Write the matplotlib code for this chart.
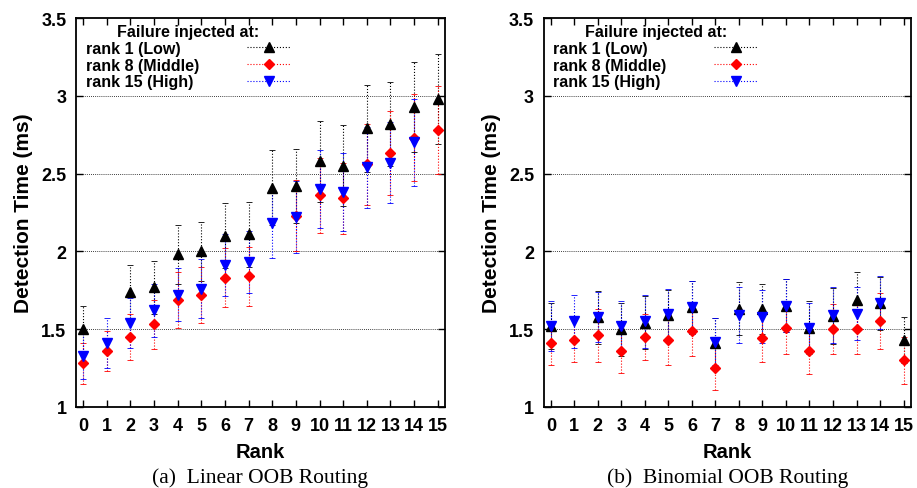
import numpy as np
import matplotlib
matplotlib.use('Agg')
import matplotlib.pyplot as plt
from matplotlib.lines import Line2D

nan = np.nan
ranks = list(range(16))

# Linear OOB routing
linear_low = [1.50, nan, 1.74, 1.77, 1.98, 2.00, 2.10, 2.11, 2.41, 2.42, 2.58, 2.55, 2.79, 2.82, 2.93, 2.98]
linear_low_err = [0.15, nan, 0.17, 0.17, 0.19, 0.19, 0.21, 0.21, 0.24, 0.24, 0.26, 0.26, 0.28, 0.27, 0.29, 0.29]
linear_mid = [1.28, 1.36, 1.45, 1.53, 1.69, 1.72, 1.83, 1.84, nan, 2.23, 2.36, 2.34, 2.56, 2.63, 2.73, 2.78]
linear_mid_err = [0.13, 0.13, 0.15, 0.16, 0.18, 0.18, 0.19, 0.19, nan, 0.23, 0.24, 0.23, 0.26, 0.27, 0.28, 0.28]
linear_high = [1.33, 1.41, 1.54, 1.62, 1.72, 1.76, 1.91, 1.93, 2.18, 2.22, 2.40, 2.38, 2.54, 2.57, 2.70, nan]
linear_high_err = [0.15, 0.16, 0.16, 0.17, 0.17, 0.19, 0.20, 0.20, 0.22, 0.23, 0.25, 0.25, 0.26, 0.26, 0.28, nan]

# Binomial OOB routing
binomial_low = [1.52, nan, 1.575, 1.50, 1.54, 1.59, 1.64, 1.41, 1.63, 1.63, 1.65, 1.51, 1.585, 1.69, 1.665, 1.43]
binomial_low_err = [0.15, nan, 0.17, 0.17, 0.17, 0.16, 0.17, 0.16, 0.17, 0.16, 0.17, 0.17, 0.18, 0.18, 0.17, 0.15]
binomial_mid = [1.41, 1.43, 1.46, 1.36, 1.45, 1.43, 1.49, 1.25, nan, 1.44, 1.51, 1.36, 1.50, 1.50, 1.55, 1.30]
binomial_mid_err = [0.14, 0.14, 0.17, 0.14, 0.15, 0.16, 0.16, 0.14, nan, 0.15, 0.17, 0.15, 0.16, 0.16, 0.18, 0.15]
binomial_high = [1.52, 1.55, 1.58, 1.52, 1.55, 1.60, 1.64, 1.42, 1.59, 1.58, 1.65, 1.51, 1.59, 1.60, 1.67, nan]
binomial_high_err = [0.16, 0.17, 0.16, 0.16, 0.17, 0.16, 0.17, 0.15, 0.18, 0.17, 0.17, 0.16, 0.18, 0.17, 0.17, nan]

labels = ['rank 1 (Low)', 'rank 8 (Middle)', 'rank 15 (High)']
colors = ['black', 'red', 'blue']
markers = ['^', 'D', 'v']
msizes = [7.5, 5.5, 7.5]
captions = ['(a)  Linear OOB Routing', '(b)  Binomial OOB Routing']

panels = [
    [(linear_low, linear_low_err), (linear_mid, linear_mid_err), (linear_high, linear_high_err)],
    [(binomial_low, binomial_low_err), (binomial_mid, binomial_mid_err), (binomial_high, binomial_high_err)],
]

plt.rcParams['font.family'] = 'Liberation Sans'
fig = plt.figure(figsize=(9.17, 4.89), dpi=100)
axes_pos = [[0.083, 0.166, 0.402, 0.795], [0.593, 0.166, 0.400, 0.795]]

for p, series in enumerate(panels):
    ax = fig.add_axes(axes_pos[p])
    for (vals, errs), c, m, ms in zip(series, colors, markers, msizes):
        eb = ax.errorbar(ranks, vals, yerr=errs, fmt=m, color=c, ms=ms,
                         elinewidth=0.8, capsize=2, capthick=0.6, ls='none')
        eb[2][0].set_linestyle(':')

    ax.set_xlim(-0.3, 15.3)
    ax.set_ylim(1, 3.5)
    ax.set_xticks(ranks)
    ax.set_yticks([1, 1.5, 2, 2.5, 3, 3.5])
    ax.set_yticklabels(['1', '1.5', '2', '2.5', '3', '3.5'])
    ax.tick_params(direction='in', top=True, right=True, length=5, width=1,
                   labelsize=13, pad=7)
    for lab in ax.get_xticklabels() + ax.get_yticklabels():
        lab.set_fontweight('bold')
    for y in [1.5, 2, 2.5, 3]:
        ax.axhline(y, color='black', lw=0.6, ls=(0, (1, 1.5)), zorder=0)
    for s in ax.spines.values():
        s.set_linewidth(1.3)

    ax.set_xlabel('Rank', fontsize=14.5, fontweight='bold', labelpad=6)
    ax.set_ylabel('Detection Time (ms)', fontsize=15, fontweight='bold', labelpad=6)

    handles = [Line2D([], [], color=c, marker=m, ms=ms, lw=0.8, ls=':')
               for c, m, ms in zip(colors, markers, msizes)]
    leg = ax.legend(handles, labels, loc='upper left', bbox_to_anchor=(0.017, 0.992),
                    title='Failure injected at:',
                    markerfirst=False, frameon=False, handlelength=2.75,
                    prop={'weight': 'bold', 'size': 11.5},
                    borderaxespad=0, labelspacing=0.1, handletextpad=1.0,
                    borderpad=0.2)
    leg.get_title().set_fontweight('bold')
    leg.get_title().set_fontsize(11.5)
    # gnuplot style: labels left aligned, samples right aligned
    for col in leg._legend_handle_box.get_children():
        for row in col.get_children():
            row.mode = 'expand'
            row.width = 205

    ax.text(0.5, -0.193, captions[p], transform=ax.transAxes, ha='center', va='baseline',
            fontsize=15.5, family='Liberation Serif')

fig.savefig('out.png', dpi=100)
